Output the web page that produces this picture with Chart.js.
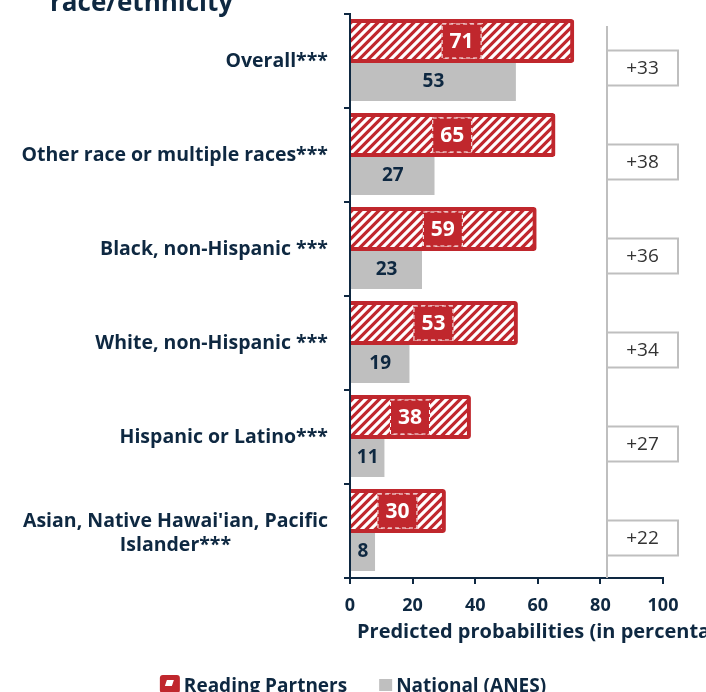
<!DOCTYPE html>
<html>
<head>
<meta charset="utf-8">
<script src="https://cdn.jsdelivr.net/npm/chart.js@4.4.1/dist/chart.umd.min.js"></script>
<style>
  html, body { margin: 0; padding: 0; background: #fff; }
</style>
</head>
<body>
<canvas id="raceChart" width="706" height="692"></canvas>
<script>
// values
const categories = [
  'Overall***',
  'Other race or multiple races***',
  'Black, non-Hispanic ***',
  'White, non-Hispanic ***',
  'Hispanic or Latino***',
  ["Asian, Native Hawai'ian, Pacific", 'Islander***']
];
const readingPartners = [71, 65, 59, 53, 38, 30];
const nationalAnes = [53, 27, 23, 19, 11, 8];
const gapLabels = ['+33', '+38', '+36', '+34', '+27', '+22'];
const xTicks = [0, 20, 40, 60, 80, 100];
const gapLineAt = 82;
const xTitle = 'Predicted probabilities (in percentages)';

const NAVY = '#0e2841';
const RED = '#c0272d';
const GREY = '#bfbfbf';
const FONT = "'Open Sans', sans-serif";

function hatchPattern() {
  const c = document.createElement('canvas');
  c.width = c.height = 9;
  const g = c.getContext('2d');
  g.fillStyle = RED;
  g.fillRect(0, 0, 9, 9);
  g.strokeStyle = '#fff';
  g.lineWidth = 3.2;
  g.beginPath();
  g.moveTo(-3, 3); g.lineTo(3, -3);
  g.moveTo(-3, 12); g.lineTo(12, -3);
  g.moveTo(6, 12); g.lineTo(12, 6);
  g.stroke();
  return g.createPattern(c, 'repeat');
}

const extras = {
  id: 'extras',
  afterDatasetsDraw(chart) {
    const { ctx, chartArea, scales: { x, y } } = chart;
    ctx.save();
    ctx.textAlign = 'center';
    ctx.textBaseline = 'middle';

    // value labels, red bars
    chart.getDatasetMeta(0).data.forEach((bar, i) => {
      const cx = (bar.x + bar.base) / 2;
      const h = bar.height - 5;
      ctx.fillStyle = RED;
      ctx.fillRect(cx - 20, bar.y - h / 2, 40, h);
      ctx.strokeStyle = '#fff';
      ctx.lineWidth = 1;
      ctx.setLineDash([4, 3]);
      ctx.strokeRect(cx - 19.5, bar.y - h / 2 + 0.5, 39, h - 1);
      ctx.setLineDash([]);
      ctx.fillStyle = '#fff';
      ctx.font = 'bold 21px ' + FONT;
      ctx.fillText(readingPartners[i], cx, bar.y + 1);
    });

    // value labels, grey bars
    chart.getDatasetMeta(1).data.forEach((bar, i) => {
      const cx = (bar.x + bar.base) / 2;
      ctx.fillStyle = NAVY;
      ctx.font = 'bold 19px ' + FONT;
      ctx.fillText(nationalAnes[i], cx, bar.y + 1);
    });

    // difference column
    const lx = Math.round(x.getPixelForValue(gapLineAt));
    ctx.strokeStyle = GREY;
    ctx.lineWidth = 2;
    ctx.beginPath();
    ctx.moveTo(lx, chartArea.top + 12);
    ctx.lineTo(lx, chartArea.bottom);
    ctx.stroke();
    gapLabels.forEach((t, i) => {
      const cy = y.getPixelForValue(i) + 7;
      ctx.fillStyle = '#fff';
      ctx.fillRect(lx, cy - 17.5, 71, 35);
      ctx.strokeRect(lx, cy - 17.5, 71, 35);
      ctx.fillStyle = '#333';
      ctx.font = '19px ' + FONT;
      ctx.fillText(t, lx + 35.5, cy + 1);
    });
    ctx.restore();
  },
  afterDraw(chart) {
    const { ctx, scales: { x, y } } = chart;
    ctx.save();
    ctx.fillStyle = NAVY;

    // category labels
    ctx.font = 'bold 19.5px ' + FONT;
    ctx.textBaseline = 'middle';
    categories.forEach((lab, i) => {
      const cy = y.getPixelForValue(i);
      if (Array.isArray(lab)) {
        const w = ctx.measureText(lab[0]).width;
        const cx = 328 - w / 2;
        ctx.textAlign = 'center';
        lab.forEach((line, k) => {
          ctx.fillText(line, cx, cy + 2 + (k - (lab.length - 1) / 2) * 24);
        });
      } else {
        ctx.textAlign = 'right';
        ctx.fillText(lab, 328, cy);
      }
    });

    // axis title, runs off the right edge as in the source
    ctx.textAlign = 'left';
    ctx.textBaseline = 'alphabetic';
    ctx.font = 'bold 20px ' + FONT;
    ctx.fillText(xTitle, x.left + 7, 638);

    // title, cut off at the top as in the source
    ctx.font = 'bold 26px ' + FONT;
    ctx.fillText('race/ethnicity', 50, 11);

    // legend
    ctx.font = 'bold 19px ' + FONT;
    const ds = chart.data.datasets;
    const w0 = ctx.measureText(ds[0].label).width;
    const w1 = ctx.measureText(ds[1].label).width;
    const total = 20 + 4 + w0 + 32 + 13 + 4 + w1;
    let lx = (chart.width - total) / 2;
    const base = 692;
    ctx.fillStyle = RED;
    ctx.beginPath();
    ctx.roundRect(lx, 675, 20, 18, 3);
    ctx.fill();
    ctx.fillStyle = '#fff';
    ctx.beginPath();
    ctx.moveTo(lx + 7, 680); ctx.lineTo(lx + 14, 680);
    ctx.lineTo(lx + 12, 686); ctx.lineTo(lx + 5, 686);
    ctx.closePath();
    ctx.fill();
    lx += 24;
    ctx.fillStyle = NAVY;
    ctx.fillText(ds[0].label, lx, base);
    lx += w0 + 32;
    ctx.fillStyle = GREY;
    ctx.fillRect(lx, 679, 13, 12);
    lx += 17;
    ctx.fillStyle = NAVY;
    ctx.fillText(ds[1].label, lx, base);
    ctx.restore();
  }
};

new Chart(document.getElementById('raceChart').getContext('2d'), {
  type: 'bar',
  data: {
    labels: categories,
    datasets: [
      {
        label: 'Reading Partners',
        data: readingPartners,
        backgroundColor: hatchPattern(),
        borderColor: RED,
        borderWidth: 4,
        borderRadius: 3,
        barThickness: 40,
        inflateAmount: 2
      },
      {
        label: 'National (ANES)',
        data: nationalAnes,
        backgroundColor: GREY,
        borderWidth: 0,
        barThickness: 40,
        inflateAmount: 0
      }
    ]
  },
  options: {
    indexAxis: 'y',
    responsive: false,
    animation: false,
    layout: { padding: { top: 14, right: 43, bottom: 0, left: 0 } },
    plugins: {
      legend: { display: false },
      tooltip: { enabled: false }
    },
    scales: {
      x: {
        min: 0,
        max: 100,
        afterBuildTicks: s => { s.ticks = xTicks.map(v => ({ value: v })); },
        afterFit: s => { s.height = 114; },
        grid: { drawOnChartArea: false, tickLength: 6, color: NAVY, lineWidth: 2 },
        border: { color: NAVY, width: 2 },
        ticks: { color: NAVY, padding: 11, font: { family: FONT, size: 18, weight: 'bold' } }
      },
      y: {
        z: 1,
        afterFit: s => { s.width = 350; },
        grid: { drawOnChartArea: false, offset: true, tickLength: 6, color: NAVY, lineWidth: 2 },
        border: { color: NAVY, width: 2 },
        ticks: { display: false }
      }
    }
  },
  plugins: [extras]
});
</script>
</body>
</html>
